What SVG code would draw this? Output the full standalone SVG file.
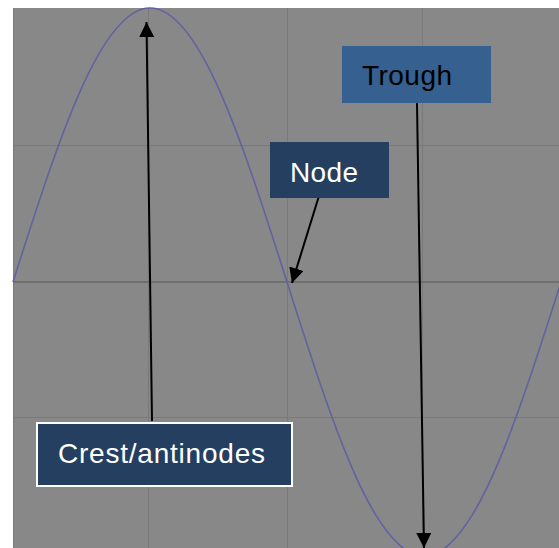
<svg xmlns="http://www.w3.org/2000/svg" width="559" height="548" viewBox="0 0 559 548">
<style>
.grid{stroke:#7a7a7a;stroke-width:1;fill:none}
.axis{stroke:#6f6f6f;stroke-width:2;fill:none}
.wave{stroke:#6262a2;stroke-width:1.6;fill:none}
.conn{stroke:#000;stroke-width:2;fill:none}
.lbl{font-family:"Liberation Sans",Arial,sans-serif;font-size:28px}
</style>
<defs>
<marker id="ah" markerUnits="userSpaceOnUse" markerWidth="16" markerHeight="16" viewBox="0 0 16 16" refX="15" refY="7.5" orient="auto">
<path d="M0,0 L15,7.5 L0,15 z" fill="#000"/>
</marker>
</defs>
<rect x="0" y="0" width="559" height="548" fill="#fff"/>
<g id="chart">
<rect x="13" y="8" width="546" height="540" fill="#888888"/>
<line class="grid" x1="13.5" y1="8" x2="13.5" y2="548"/>
<line class="grid" x1="148.5" y1="8" x2="148.5" y2="548"/>
<line class="grid" x1="287.5" y1="8" x2="287.5" y2="548"/>
<line class="grid" x1="422.5" y1="8" x2="422.5" y2="548"/>
<line class="grid" x1="13" y1="145.5" x2="559" y2="145.5"/>
<line class="grid" x1="13" y1="417.5" x2="559" y2="417.5"/>
<line class="axis" x1="13" y1="282" x2="559" y2="282"/>
<path class="wave" d="M13,282 C57.68,141.63 100.42,8 150,8 C199.58,8 242.32,141.63 287,282 C331.68,422.37 374.42,556 424,556 C473.58,556 516.32,422.37 561,282"/>
</g>
<g id="connectors">
<line class="conn" x1="152" y1="421" x2="146.5" y2="22" marker-end="url(#ah)"/>
<line class="conn" x1="323" y1="183" x2="292" y2="283" marker-end="url(#ah)"/>
<line class="conn" x1="417" y1="103" x2="424" y2="548" marker-end="url(#ah)"/>
</g>
<g id="trough">
<rect x="342" y="46" width="149" height="57" fill="#35608f"/>
<text class="lbl" x="362" y="85" fill="#000" textLength="90" lengthAdjust="spacing">Trough</text>
</g>
<g id="node">
<rect x="270" y="142" width="119" height="56" fill="#243f60"/>
<text class="lbl" x="290" y="182" fill="#fff" textLength="68" lengthAdjust="spacing">Node</text>
</g>
<g id="crest">
<rect x="37" y="423" width="255" height="63" fill="#243f60" stroke="#fff" stroke-width="2"/>
<text class="lbl" x="58" y="463" fill="#fff" textLength="207" lengthAdjust="spacing">Crest/antinodes</text>
</g>
</svg>
